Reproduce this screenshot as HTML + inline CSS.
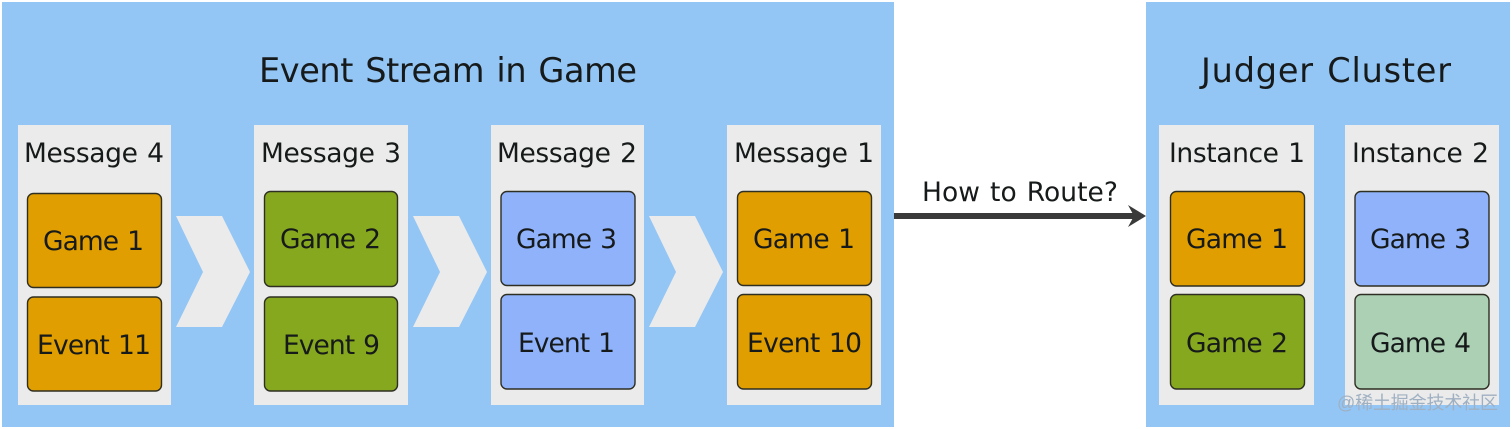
<!DOCTYPE html>
<html>
<head>
<meta charset="utf-8">
<style>
html,body{margin:0;padding:0;background:#fff;width:1512px;height:429px;overflow:hidden}
svg{display:block}
text{font-family:"DejaVu Sans","Liberation Sans",sans-serif;fill:#171a1a;font-size:26.5px;word-spacing:1.5px}
.t{font-size:33.5px;word-spacing:2px}
.w{font-family:"Liberation Sans","Noto Sans CJK SC",sans-serif;font-size:18px;fill:#9fb0c2;word-spacing:0}
.b{stroke:#2e2e22;stroke-width:1.4}
.o{fill:#e09e00}.g{fill:#86a81f}.u{fill:#8fb2fb}.s{fill:#abd0b4}
</style>
</head>
<body>
<svg width="1512" height="429" viewBox="0 0 1512 429" xmlns="http://www.w3.org/2000/svg">
<rect width="1512" height="429" fill="#fff"/>
<rect x="2" y="2" width="892" height="425" fill="#93c6f5"/>
<rect x="1146" y="2" width="364" height="425" fill="#93c6f5"/>

<text class="t" x="259" y="82" textLength="378" lengthAdjust="spacing">Event Stream in Game</text>
<text class="t" x="1201" y="82" textLength="250" lengthAdjust="spacing">Judger Cluster</text>

<g fill="#ebebeb">
<rect x="18" y="125" width="153" height="280"/>
<rect x="254" y="125" width="154" height="280"/>
<rect x="491" y="125" width="153" height="280"/>
<rect x="727" y="125" width="154" height="280"/>
<rect x="1159" y="125" width="155" height="280"/>
<rect x="1345" y="125" width="154" height="280"/>
<polygon points="176,216 222,216 250,272 222,327 176,327 203,272"/>
<polygon points="413,216 459,216 487,272 459,327 413,327 440,272"/>
<polygon points="649,216 695,216 723,272 695,327 649,327 676,272"/>
</g>

<text x="24" y="162" textLength="140" lengthAdjust="spacing">Message 4</text>
<text x="261" y="162" textLength="140" lengthAdjust="spacing">Message 3</text>
<text x="497" y="162" textLength="140" lengthAdjust="spacing">Message 2</text>
<text x="734" y="162" textLength="140" lengthAdjust="spacing">Message 1</text>
<text x="1169" y="162" textLength="136" lengthAdjust="spacing">Instance 1</text>
<text x="1352" y="162" textLength="137" lengthAdjust="spacing">Instance 2</text>

<rect class="b o" x="27.5" y="193.5" width="134" height="94" rx="6"/>
<rect class="b o" x="27.5" y="297" width="134" height="94" rx="6"/>
<rect class="b g" x="264.5" y="191.5" width="133" height="95" rx="6"/>
<rect class="b g" x="264.5" y="297" width="133" height="94" rx="6"/>
<rect class="b u" x="501" y="191.5" width="134" height="94" rx="6"/>
<rect class="b u" x="501" y="294.5" width="134" height="94.5" rx="6"/>
<rect class="b o" x="737.5" y="191.5" width="134" height="94" rx="6"/>
<rect class="b o" x="737.5" y="294.5" width="134" height="94.5" rx="6"/>
<rect class="b o" x="1170.5" y="191.5" width="134" height="94.5" rx="6"/>
<rect class="b g" x="1170.5" y="294.5" width="134" height="94.5" rx="6"/>
<rect class="b u" x="1355" y="191.5" width="134" height="94.5" rx="6"/>
<rect class="b s" x="1355" y="294.5" width="134" height="94.5" rx="6"/>

<text x="43" y="250" textLength="101" lengthAdjust="spacing">Game 1</text>
<text x="37" y="354" textLength="114" lengthAdjust="spacing">Event 11</text>
<text x="280" y="248" textLength="101" lengthAdjust="spacing">Game 2</text>
<text x="283" y="354" textLength="97" lengthAdjust="spacing">Event 9</text>
<text x="516" y="248" textLength="101" lengthAdjust="spacing">Game 3</text>
<text x="518" y="352" textLength="97" lengthAdjust="spacing">Event 1</text>
<text x="753" y="248" textLength="102" lengthAdjust="spacing">Game 1</text>
<text x="747" y="352" textLength="115" lengthAdjust="spacing">Event 10</text>
<text x="1186" y="248" textLength="102" lengthAdjust="spacing">Game 1</text>
<text x="1186" y="352" textLength="102" lengthAdjust="spacing">Game 2</text>
<text x="1370" y="248" textLength="101" lengthAdjust="spacing">Game 3</text>
<text x="1370" y="352" textLength="101" lengthAdjust="spacing">Game 4</text>

<text x="922" y="201" textLength="196" lengthAdjust="spacing">How to Route?</text>
<rect x="894" y="213" width="240" height="6" fill="#3a3a3a"/>
<polygon points="1146,216 1128,205 1134,216 1128,227" fill="#3a3a3a"/>

<text class="w" x="1337" y="409" textLength="161" lengthAdjust="spacing">@稀土掘金技术社区</text>
</svg>
</body>
</html>
